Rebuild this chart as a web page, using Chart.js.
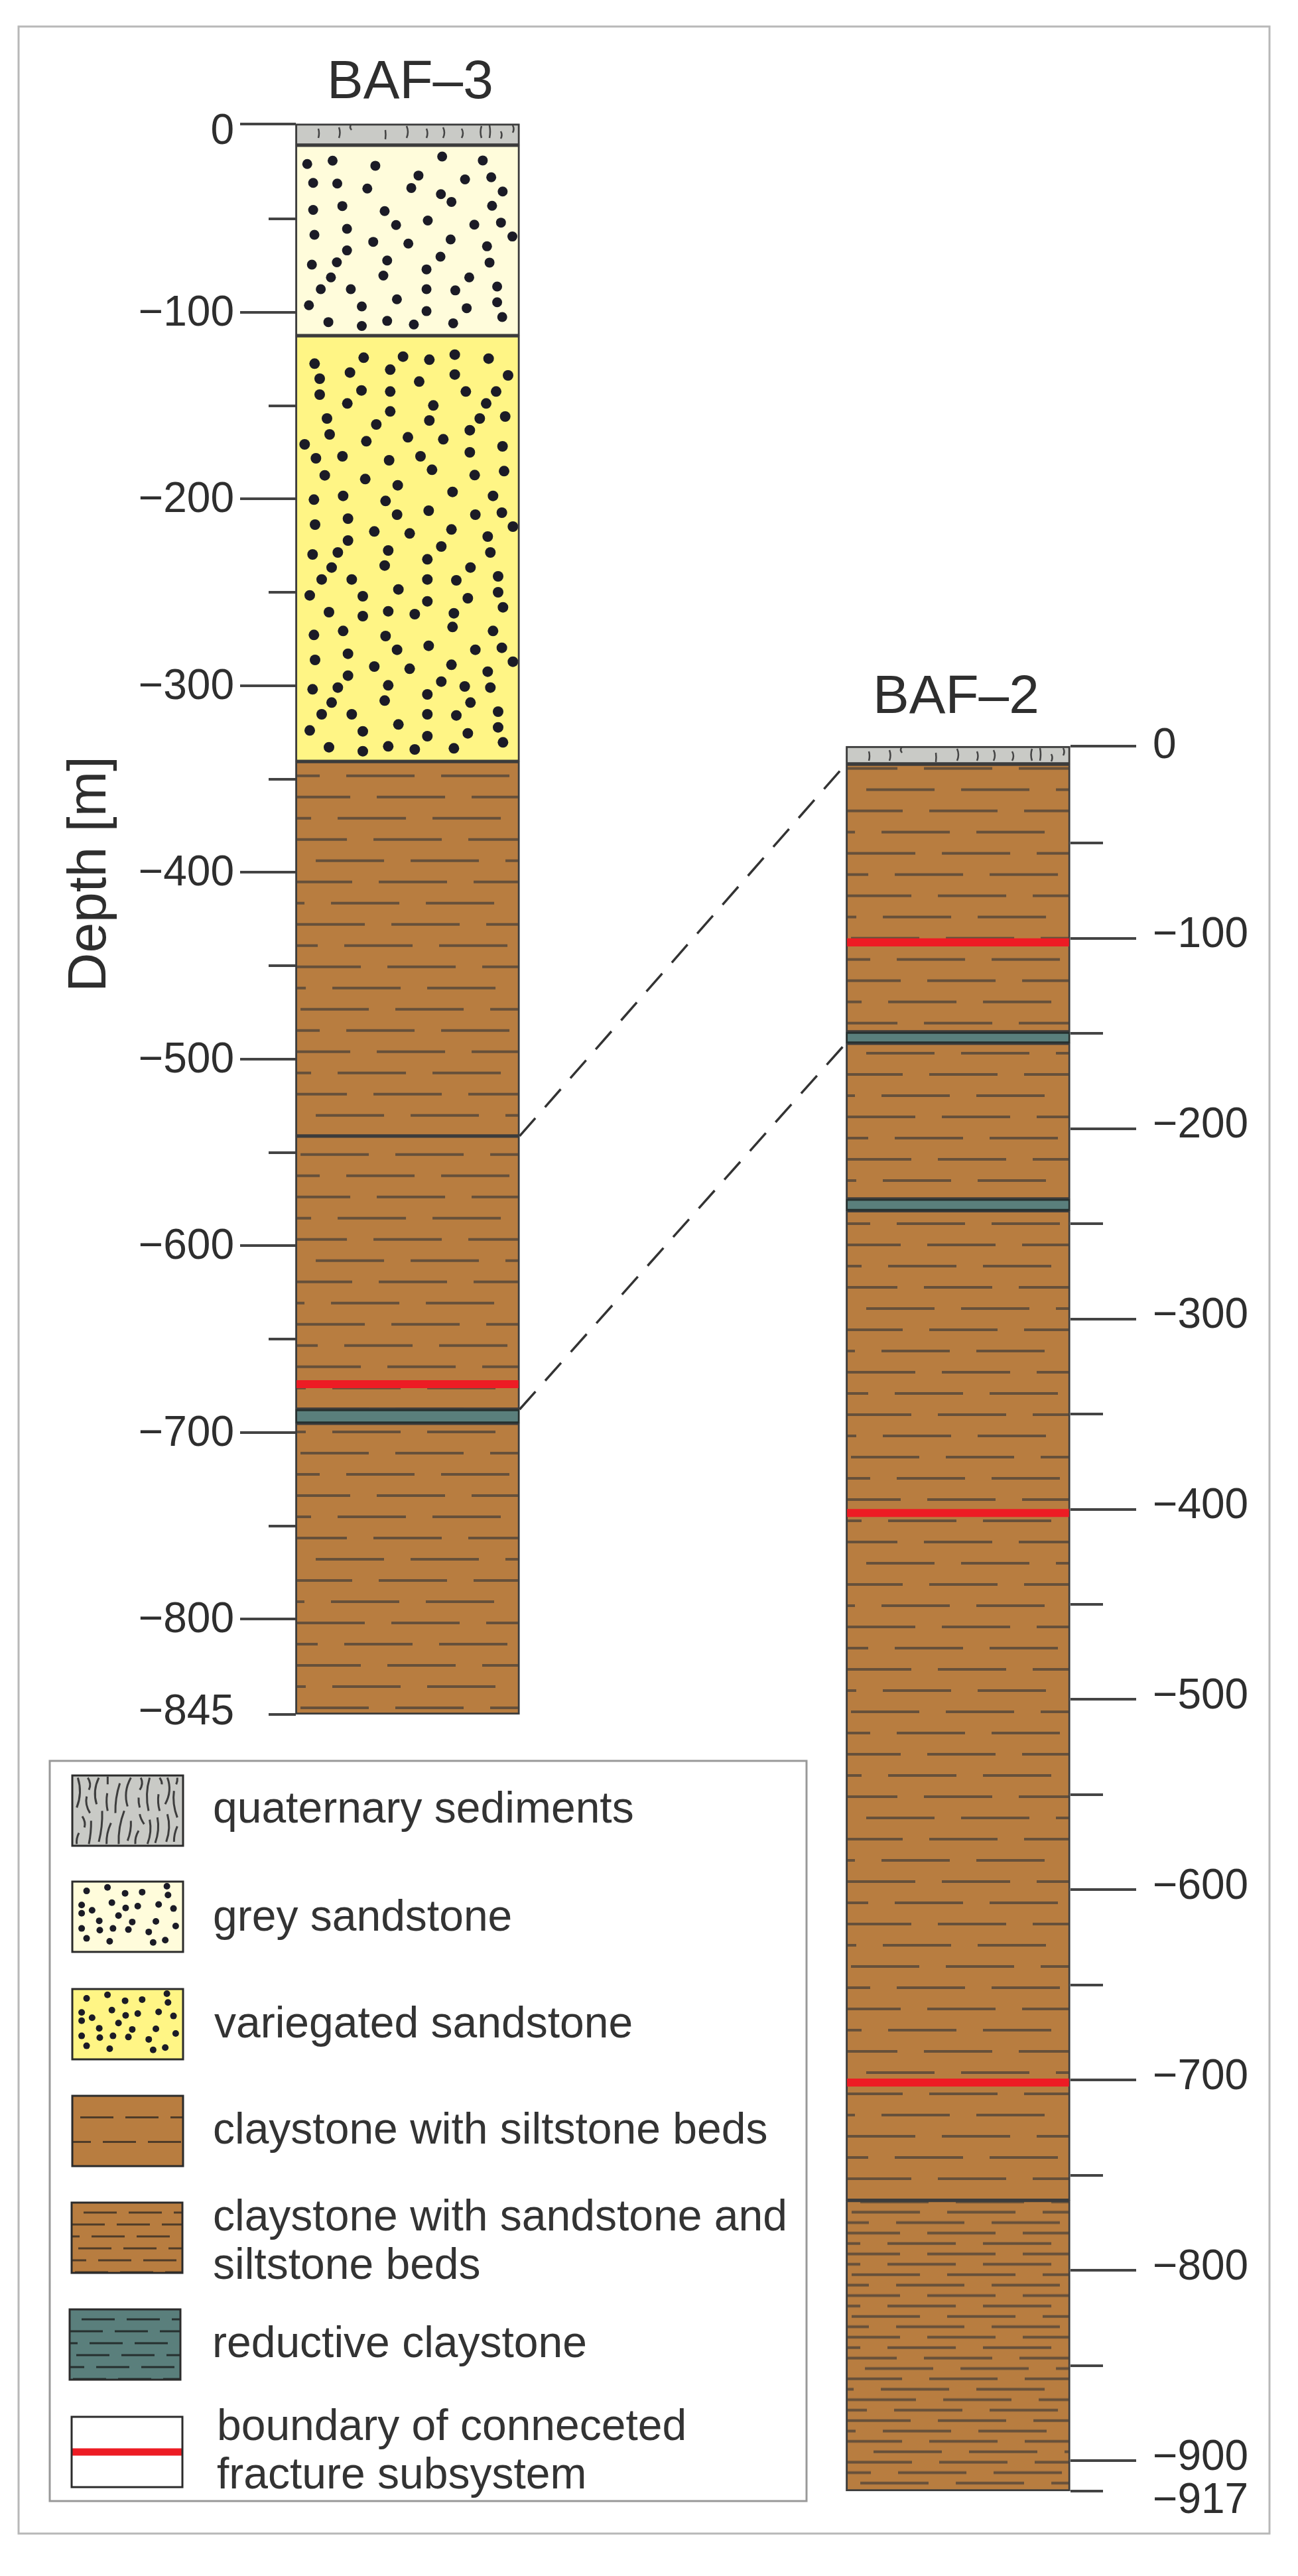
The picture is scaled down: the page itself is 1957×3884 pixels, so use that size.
<!DOCTYPE html>
<html>
<head>
<meta charset="utf-8">
<title>BAF-3 and BAF-2 well logs</title>
<style>
  html, body { margin: 0; padding: 0; background: #fff; }
  canvas { display: block; }
</style>
</head>
<body>
<canvas id="logChart" width="1957" height="3884"></canvas>
<script src="https://cdn.jsdelivr.net/npm/chart.js@4/dist/chart.umd.js"></script>
<script>
// Well data, depth in metres
const wells = ['BAF–3', 'BAF–2'];

const baf3Lithology = ['quaternary', 'grey', 'variegated', 'silt', 'silt', 'reductive', 'silt'];
const baf3Top = [1, -10.5, -112.5, -340.6, -541.2, -687.6, -695];
const baf3Bottom = [-10.5, -112.5, -340.6, -541.2, -687.6, -695, -851];
const baf3Fractures = [-674.1];
const baf3TickValues = [1, -50, -100, -150, -200, -250, -300, -350, -400, -450, -500, -550, -600, -650, -700, -750, -800, -851];
const baf3TickLabels = ['0', '', '−100', '', '−200', '', '−300', '', '−400', '', '−500', '', '−600', '', '−700', '', '−800', '−845'];

const baf2Lithology = ['quaternary', 'silt', 'reductive', 'silt', 'reductive', 'silt', 'dense'];
const baf2Top = [1, -8.4, -149.2, -155.1, -237, -243.1, -763.2];
const baf2Bottom = [-8.4, -149.2, -155.1, -237, -243.1, -763.2, -916];
const baf2Fractures = [-102.1, -402, -701.3];
const baf2TickValues = [1, -50, -100, -150, -200, -250, -300, -350, -400, -450, -500, -550, -600, -650, -700, -750, -800, -850, -900, -916];
const baf2TickLabels = ['0', '', '−100', '', '−200', '', '−300', '', '−400', '', '−500', '', '−600', '', '−700', '', '−800', '', '−900', '−917'];

// dashed correlation lines, same bed in both wells
const correlationBaf3 = [-541.2, -687.6];
const correlationBaf2 = [-8.4, -155.1];

const legendLabels = [
    ['quaternary sediments'],
    ['grey sandstone'],
    ['variegated sandstone'],
    ['claystone with siltstone beds'],
    ['claystone with sandstone and', 'siltstone beds'],
    ['reductive claystone'],
    ['boundary of conneceted', 'fracture subsystem']
];

// Colours and layout
const BROWN = '#b87d40', INK = '#66503a', GREY = '#c9cac6', PALE = '#fffcdb', YELLOW = '#fff585', TEAL = '#5a7f7c', RED = '#ed1c24';
const TEXT = '#2e2e2e', LINE = '#3c3c3c';
const AREA_TOP = 186, AREA_BOTTOM = 3760, AREA_LEFT = 446, AREA_RIGHT = 1614;
const COLUMN_WIDTH = 338;
const COLUMN_LEFT = [446, 1276];

// Texture tiles
const ctxMain = document.getElementById('logChart').getContext('2d');

function tile(w, h, draw, ax, ay) {
    const c = document.createElement('canvas');
    c.width = w;
    c.height = h;
    draw(c.getContext('2d'));
    const pattern = ctxMain.createPattern(c, 'repeat');
    pattern.setTransform(new DOMMatrix([1, 0, 0, 1, ax, ay]));
    return pattern;
}

function dashTile(bg, rows, h, dash, period, ax, ay, ink, lw) {
    return tile(period, h, g => {
        g.fillStyle = bg;
        g.fillRect(0, 0, period, h);
        g.strokeStyle = ink;
        g.lineWidth = lw;
        const step = h / rows.length;
        rows.forEach((off, i) => {
            const y = (i + 0.5) * step;
            for (let x = off - period; x < period; x += period) {
                g.beginPath();
                g.moveTo(x, y);
                g.lineTo(x + dash, y);
                g.stroke();
            }
        });
    }, ax, ay);
}

function dotTile(bg, dots, r, w, h, ax, ay) {
    return tile(w, h, g => {
        g.fillStyle = bg;
        g.fillRect(0, 0, w, h);
        g.fillStyle = '#1b1b26';
        dots.forEach(d => {
            g.beginPath();
            g.arc(d[0], d[1], r, 0, Math.PI * 2);
            g.fill();
        });
    }, ax, ay);
}

// grains placed as seen in the reference, pixels from the layer corner
const greyGrains = [[727,556],[787,545],[888,562],[1046,531],[1142,544],[990,595],[1100,608],[1162,601],[741,620],[798,622],[869,639],[973,637],[1189,649],[1043,658],[1068,684],[1164,697],[741,711],[810,698],[910,715],[937,762],[1012,747],[1122,761],[1185,754],[744,795],[821,775],[1212,801],[883,819],[966,825],[1066,811],[1152,834],[821,848],[1042,869],[738,896],[797,888],[916,882],[1158,889],[1009,912],[783,939],[907,933],[1110,939],[759,979],[830,979],[1009,979],[1077,983],[1176,970],[731,1033],[856,1037],[939,1013],[1176,1023],[1104,1043],[1009,1053],[777,1090],[856,1103],[916,1086],[979,1098],[1072,1094],[1188,1073]]
    .map(d => [(d[0] - 700) / 1.568, (d[1] - 495) / 2.24]);

const variegatedUpper = [[103,145],[325,118],[503,113],[622,127],[737,104],[890,122],[263,185],[445,172],[737,194],[978,198],[126,213],[576,226],[126,285],[315,266],[445,271],[787,271],[924,271],[251,325],[640,334],[879,325],[445,361],[159,393],[622,402],[850,393],[965,384],[382,420],[805,446],[171,465],[337,496],[525,478],[685,487],[58,510],[953,519],[109,573],[229,564],[440,582],[582,564],[805,546],[149,650],[332,667],[634,625],[827,649],[960,631],[479,695],[100,760],[232,743],[424,766],[727,725],[910,743],[105,873],[254,846],[476,828],[619,810],[830,828],[950,819],[373,904],[533,913],[722,895],[1000,882],[886,927],[254,945],[94,1008],[208,999],[436,990],[676,972],[898,999],[613,1030]];
const variegatedLower = [[180,77],[420,68],[808,77],[135,131],[271,131],[613,131],[744,135],[933,117],[482,176],[81,203],[321,207],[933,189],[613,230],[796,216],[955,257],[168,279],[321,297],[436,275],[556,288],[733,284],[727,346],[100,382],[232,364],[424,387],[910,364],[476,449],[619,431],[830,449],[950,440],[254,467],[105,495],[1000,503],[373,525],[533,535],[722,517],[886,548],[254,566],[94,628],[208,620],[436,610],[676,593],[782,615],[898,620],[613,651],[180,688],[420,679],[808,688],[135,741],[271,741],[613,741],[744,746],[933,729],[482,787],[81,814],[321,818],[933,800],[613,840],[796,827],[955,868],[168,890],[321,908],[436,886],[556,900],[733,895]];
const variegatedGrains = variegatedUpper.map(d => [d[0] / 3 - 6, d[1] / 3 - 6])
    .concat(variegatedLower.map(d => [d[0] / 3 - 6, (d[1] + 990) / 3 - 6]));

const legendGrains = [[195,392],[227,402],[258,400],[303,390],[305,405],[157,398],[203,418],[148,422],[167,431],[228,427],[250,424],[288,421],[315,428],[215,440],[148,436],[180,449],[240,451],[205,462],[148,462],[233,464],[283,450],[319,458],[181,465],[270,468],[199,484],[278,486],[300,482],[157,479]]
    .map(d => [(d[0] - 131) / 1.206, (d[1] - 382) / 1.133]);

// dash start of every row from the column edge, repeating block of rows
const siltRows = [30, 125, 53, 1, 73, 138, 55, 7, 76, 122, 63, 117];
const denseRows = [8, 75, 122, 62, 122, 62, 8, 75, 122, 62, 8, 75, 122, 62, 117, 28, 125, 52, 2, 72, 138, 55, 125, 41, 140, 78, 21];

function siltTile(x, firstRowY) {
    return dashTile(BROWN, siltRows, 384, 103, 143, x, firstRowY - 16, INK, 4);
}

function denseTile(x, firstRowY) {
    return dashTile(BROWN, denseRows, 424, 103, 144, x, firstRowY - 424 / 27 / 2, INK, 4);
}

// surface sediment, short curved marks along the layer
const surfaceMarks = [[34,8,22,2],[65,6,22,3],[84,1,10,-4],[135,10,24,1],[167,4,22,4],[197,8,22,3],[222,6,22,4],[250,8,22,4],[280,4,22,-3],[292,3,22,2],[309,12,23,3],[327,3,14,3]];

function surfaceTile(x, y) {
    return tile(338, 60, g => {
        g.fillStyle = GREY;
        g.fillRect(0, 0, 338, 60);
        g.strokeStyle = '#444';
        g.lineWidth = 2.5;
        surfaceMarks.forEach(m => {
            g.beginPath();
            g.moveTo(m[0], m[1]);
            g.quadraticCurveTo(m[0] + m[3], (m[1] + m[2]) / 2, m[0], m[2]);
            g.stroke();
        });
    }, x, y);
}

// legend swatch marks: x0, y0, x1, y1, bend at three times size, from the swatch corner
const wavyMarks = [[25,10,20,145,12],[70,10,75,65,8],[65,95,80,170,-8],[120,10,110,130,-12],[160,5,160,40,0],[158,80,160,160,-4],[215,35,195,170,-6],[265,10,250,140,-14],[310,10,305,65,8],[300,100,305,145,-2],[350,10,345,160,-10],[395,10,405,40,3],[390,85,395,160,-4],[430,10,420,130,14],[460,70,475,190,-8],[475,10,470,40,2],
    [45,185,55,235,6],[30,260,20,310,-4],[85,205,75,310,3],[135,160,120,300,5],[175,215,155,310,-6],[235,160,210,310,-8],[265,205,250,295,5],[300,250,285,310,-5],[305,175,325,220,-3],[350,200,340,310,8],[385,190,375,305,8],[430,175,425,300,10],[475,230,460,300,-4]];

function paintLegendWaves(g) {
    g.strokeStyle = '#3d3d3d';
    g.lineWidth = 3;
    wavyMarks.forEach(m => {
        g.beginPath();
        g.moveTo(m[0] / 3, m[1] / 3);
        g.quadraticCurveTo((m[0] + m[2]) / 6 + m[4] / 1.5, (m[1] + m[3]) / 6, m[2] / 3, m[3] / 3);
        g.stroke();
    });
}

function fillFor(kind, well, index) {
    const x = COLUMN_LEFT[well];
    if (kind === 'quaternary') return surfaceTile(x, well === 0 ? AREA_TOP : 1125);
    if (kind === 'grey') return dotTile(PALE, greyGrains, 7.5, 338, 330, x, 220);
    if (kind === 'variegated') return dotTile(YELLOW, variegatedGrains, 8, 338, 660, x, 506);
    if (kind === 'reductive') return TEAL;
    if (kind === 'dense') return denseTile(x, 3335.5);
    // first dash row of each claystone block, read per layer
    const firstRow = well === 0 ? { 3: 1681.7, 4: 1900.7, 6: 1967 } : { 1: 1190.6, 3: 1588, 5: 1589 };
    return siltTile(x, firstRow[index]);
}

// Build datasets from the arrays
function layerSets(well, kinds, tops, bottoms, axis) {
    return kinds.map((kind, i) => ({
        label: wells[well] + ' ' + kind,
        yAxisID: axis,
        order: 2,
        grouped: false,
        clip: false,
        barThickness: COLUMN_WIDTH,
        backgroundColor: fillFor(kind, well, i),
        borderColor: kind === 'reductive' ? '#26302f' : LINE,
        borderWidth: 3,
        borderSkipped: false,
        data: [{ x: well, y: [tops[i], bottoms[i]] }]
    }));
}

function fractureSets(well, depths, axis) {
    return depths.map(d => ({
        label: wells[well] + ' fracture boundary',
        yAxisID: axis,
        order: 1,
        grouped: false,
        clip: false,
        barThickness: COLUMN_WIDTH - 4,
        backgroundColor: RED,
        borderWidth: 0,
        data: [{ x: well, y: [d + 2, d - 2] }]
    }));
}

// Depth axis: short ticks on the unlabelled depths, labels moved like in the drawing
const labelNudge = {
    y3: { '0': 13, '−845': -3 },
    y2: { '0': 0, '−917': 15 }
};
const labelNudgeDefault = { y3: 2, y2: -4 };
const shortTickSize = { y3: 41, y2: 49 };
const bottomTick = { y3: -851, y2: -916 };

class DepthScale extends Chart.LinearScale {
    _computeGridLineItems(area) {
        const items = super._computeGridLineItems(area);
        items.forEach((item, i) => {
            const t = this.ticks[i];
            if (!t || (t.label !== '' && t.value !== bottomTick[this.id])) return;
            if (this.position === 'left') item.tx1 = item.tx2 - shortTickSize[this.id];
            else item.tx2 = item.tx1 + shortTickSize[this.id];
        });
        return items;
    }
    _computeLabelItems(area) {
        const items = super._computeLabelItems(area);
        items.forEach(item => {
            const nudge = labelNudge[this.id][item.label];
            item.options.translation[1] += nudge === undefined ? labelNudgeDefault[this.id] : nudge;
        });
        return items;
    }
}
DepthScale.id = 'depth';
DepthScale.defaults = Chart.LinearScale.defaults;
Chart.register(DepthScale);

function depthAxis(position, min, max, values, labels, tickLength, padding, width) {
    return {
        type: 'depth',
        position: position,
        min: min,
        max: max,
        border: { display: false },
        grid: { drawOnChartArea: false, color: '#444', lineWidth: 4, tickLength: tickLength },
        afterBuildTicks: scale => { scale.ticks = values.map(v => ({ value: v })); },
        afterFit: scale => { scale.width = width; },
        ticks: {
            autoSkip: false,
            padding: padding,
            color: TEXT,
            font: { family: '"Liberation Sans"', size: 64 },
            callback: (value, i) => labels[i]
        }
    };
}

// Titles, correlation lines, legend and frame
const sheetPlugin = {
    id: 'sheet',
    beforeDatasetsDraw(chart) {
        const { ctx, scales } = chart;
        const fromX = scales.x.getPixelForValue(0) + COLUMN_WIDTH / 2;
        const toX = scales.x.getPixelForValue(1) - COLUMN_WIDTH / 2;
        ctx.save();
        ctx.strokeStyle = '#333';
        ctx.lineWidth = 3.5;
        ctx.setLineDash([36, 22]);
        correlationBaf3.forEach((d, i) => {
            ctx.beginPath();
            ctx.moveTo(fromX, scales.y3.getPixelForValue(d));
            ctx.lineTo(toX, scales.y2.getPixelForValue(correlationBaf2[i]));
            ctx.stroke();
        });
        ctx.restore();
    },
    afterDraw(chart) {
        const { ctx, scales } = chart;
        ctx.save();

        // frame
        ctx.strokeStyle = '#b8b8b8';
        ctx.lineWidth = 3;
        ctx.strokeRect(28, 40, 1886, 3780);

        // well names
        ctx.fillStyle = TEXT;
        ctx.textAlign = 'center';
        ctx.textBaseline = 'middle';
        ctx.font = '82px "Liberation Sans"';
        ctx.fillText(wells[0], scales.x.getPixelForValue(0) + 4, 125);
        ctx.fillText(wells[1], scales.x.getPixelForValue(1) - 3, 1052);

        // axis name
        ctx.save();
        ctx.translate(136, 1318);
        ctx.rotate(-Math.PI / 2);
        ctx.font = '82px "Liberation Sans"';
        ctx.fillText('Depth [m]', 0, 0);
        ctx.restore();

        // legend
        ctx.strokeStyle = '#999';
        ctx.lineWidth = 3;
        ctx.strokeRect(75, 2655, 1141, 1116);

        const swatchTop = [2677, 2837, 2999, 3160, 3321, 3482, 3644];
        const swatchLeft = [109, 109, 109, 109, 108, 105, 108];
        const textY = [[2730], [2893], [3054], [3214], [3345, 3418], [3536], [3661, 3734]];
        const textX = [321, 321, 323, 321, 321, 320, 327];
        const W = 167, H = 106;
        swatchTop.forEach((top, i) => {
            const left = swatchLeft[i];
            let fill;
            if (i === 0) fill = GREY;
            if (i === 1) fill = dotTile(PALE, legendGrains, 5, W, H, left, top);
            if (i === 2) fill = dotTile(YELLOW, legendGrains, 5, W, H, left, top);
            if (i === 3) fill = dashTile(BROWN, [12, 46], 74, 50, 68, left, top + 14, '#4f3c28', 3);
            if (i === 4) fill = dashTile(BROWN, [18, 0, 30, 10, 40, 5], 108, 50, 68, left, top + 6, '#4f3c28', 3);
            if (i === 5) fill = dashTile(TEAL, [18, 0, 30, 10, 40, 5], 108, 50, 68, left, top + 6, '#26302f', 3);
            if (i === 6) fill = '#fff';
            ctx.fillStyle = fill;
            ctx.fillRect(left, top, W, H);
            if (i === 0) {
                ctx.save();
                ctx.beginPath();
                ctx.rect(left, top, W, H);
                ctx.clip();
                ctx.translate(left, top);
                paintLegendWaves(ctx);
                ctx.restore();
            }
            if (i === 6) {
                ctx.fillStyle = RED;
                ctx.fillRect(left, top + H / 2 - 5.5, W, 11);
            }
            ctx.strokeStyle = '#2b2b2b';
            ctx.lineWidth = 3;
            ctx.strokeRect(left, top, W, H);

            ctx.fillStyle = '#333';
            ctx.textAlign = 'left';
            ctx.font = '66px "Liberation Sans"';
            legendLabels[i].forEach((line, k) => ctx.fillText(line, textX[i], textY[i][k]));
        });
        ctx.restore();
    }
};

new Chart(ctxMain, {
    type: 'bar',
    data: {
        datasets: [
            ...fractureSets(0, baf3Fractures, 'y3'),
            ...fractureSets(1, baf2Fractures, 'y2'),
            ...layerSets(0, baf3Lithology, baf3Top, baf3Bottom, 'y3'),
            ...layerSets(1, baf2Lithology, baf2Top, baf2Bottom, 'y2')
        ]
    },
    options: {
        responsive: false,
        animation: false,
        devicePixelRatio: 1,
        layout: { padding: { top: AREA_TOP, bottom: 3884 - AREA_BOTTOM, left: 0, right: 0 } },
        plugins: { legend: { display: false }, tooltip: { enabled: false } },
        scales: {
            x: { type: 'linear', display: false, offset: false, min: -0.2029, max: 1.2043 },
            y3: depthAxis('left', -1268.4, 1.2, baf3TickValues, baf3TickLabels, 84, 9, AREA_LEFT),
            y2: depthAxis('right', -917.4, 328.3, baf2TickValues, baf2TickLabels, 99, 25, 1957 - AREA_RIGHT)
        }
    },
    plugins: [sheetPlugin]
});
</script>
</body>
</html>
